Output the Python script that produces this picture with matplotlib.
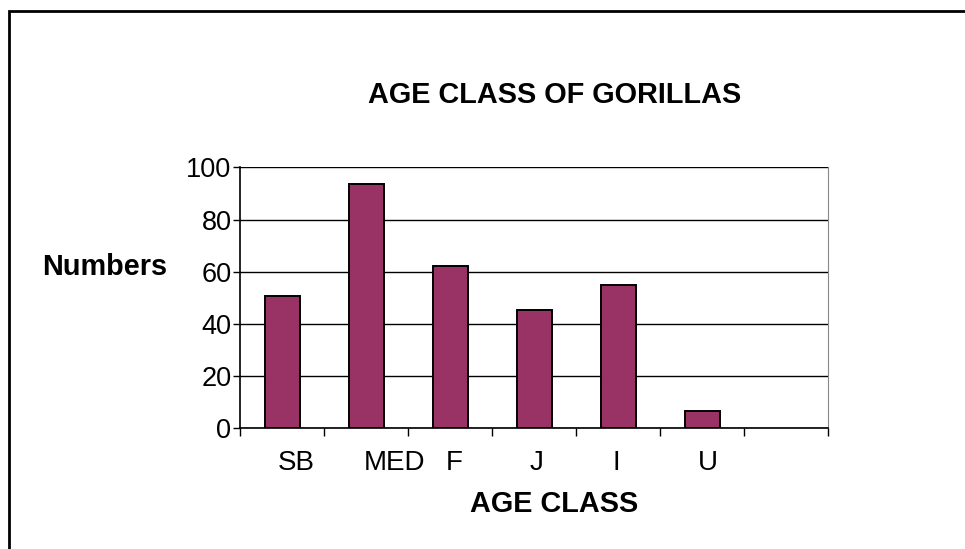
import matplotlib.pyplot as plt
from matplotlib.patches import Rectangle

categories = ['SB', 'MED', 'F', 'J', 'I', 'U', '']
values = [50.6, 93.7, 62.1, 45.2, 54.8, 6.2, 0]

plt.rcParams['font.family'] = ['Liberation Sans', 'DejaVu Sans']

fig = plt.figure(figsize=(9.65, 5.49), dpi=100)
ax = fig.add_axes([0.2492, 0.2213, 0.6093, 0.4736])

x = list(range(len(categories)))
ax.bar(x[:6], values[:6], width=0.42, color='#993366', edgecolor='black', linewidth=1.4, zorder=3)

ax.set_xlim(-0.5, len(categories) - 0.5)
ax.set_ylim(0, 100)
ax.set_yticks([0, 20, 40, 60, 80, 100])
ax.tick_params(axis='y', labelsize=19.5, length=5, width=1, pad=1.5, direction='out')
ax.grid(axis='y', color='black', linewidth=1, zorder=1)

ax.set_xticks([i - 0.5 for i in range(len(categories) + 1)])
ax.set_xticklabels([])
ax.tick_params(axis='x', length=6, width=1, direction='out')

# Excel-style misaligned category labels
label_offsets = [0.17, 0.33, 0.05, 0.02, -0.03, 0.06]
for i, lab in enumerate(categories[:6]):
    ax.text(i + label_offsets[i], -13.5, lab, ha='center', va='center', fontsize=20,
            transform=ax.transData)

for s in ['left', 'bottom']:
    ax.spines[s].set_color('black')
    ax.spines[s].set_linewidth(1.2)
ax.spines['right'].set_color('#888888')
ax.spines['top'].set_visible(False)

fig.text(0.575, 0.827, 'AGE CLASS OF GORILLAS', ha='center', va='center',
         fontsize=20.8, fontweight='bold')
fig.text(0.1088, 0.5137, 'Numbers', ha='center', va='center',
         fontsize=20.8, fontweight='bold')
fig.text(0.574, 0.082, 'AGE CLASS', ha='center', va='center',
         fontsize=20.8, fontweight='bold')

# outer chart frame (cropped on right and bottom)
fig.patches.append(Rectangle((9 / 965, -0.1), 1.2, 1 - 11 / 549 + 0.1,
                             transform=fig.transFigure, fill=False,
                             edgecolor='black', linewidth=2))

fig.savefig('out.png', dpi=100)
